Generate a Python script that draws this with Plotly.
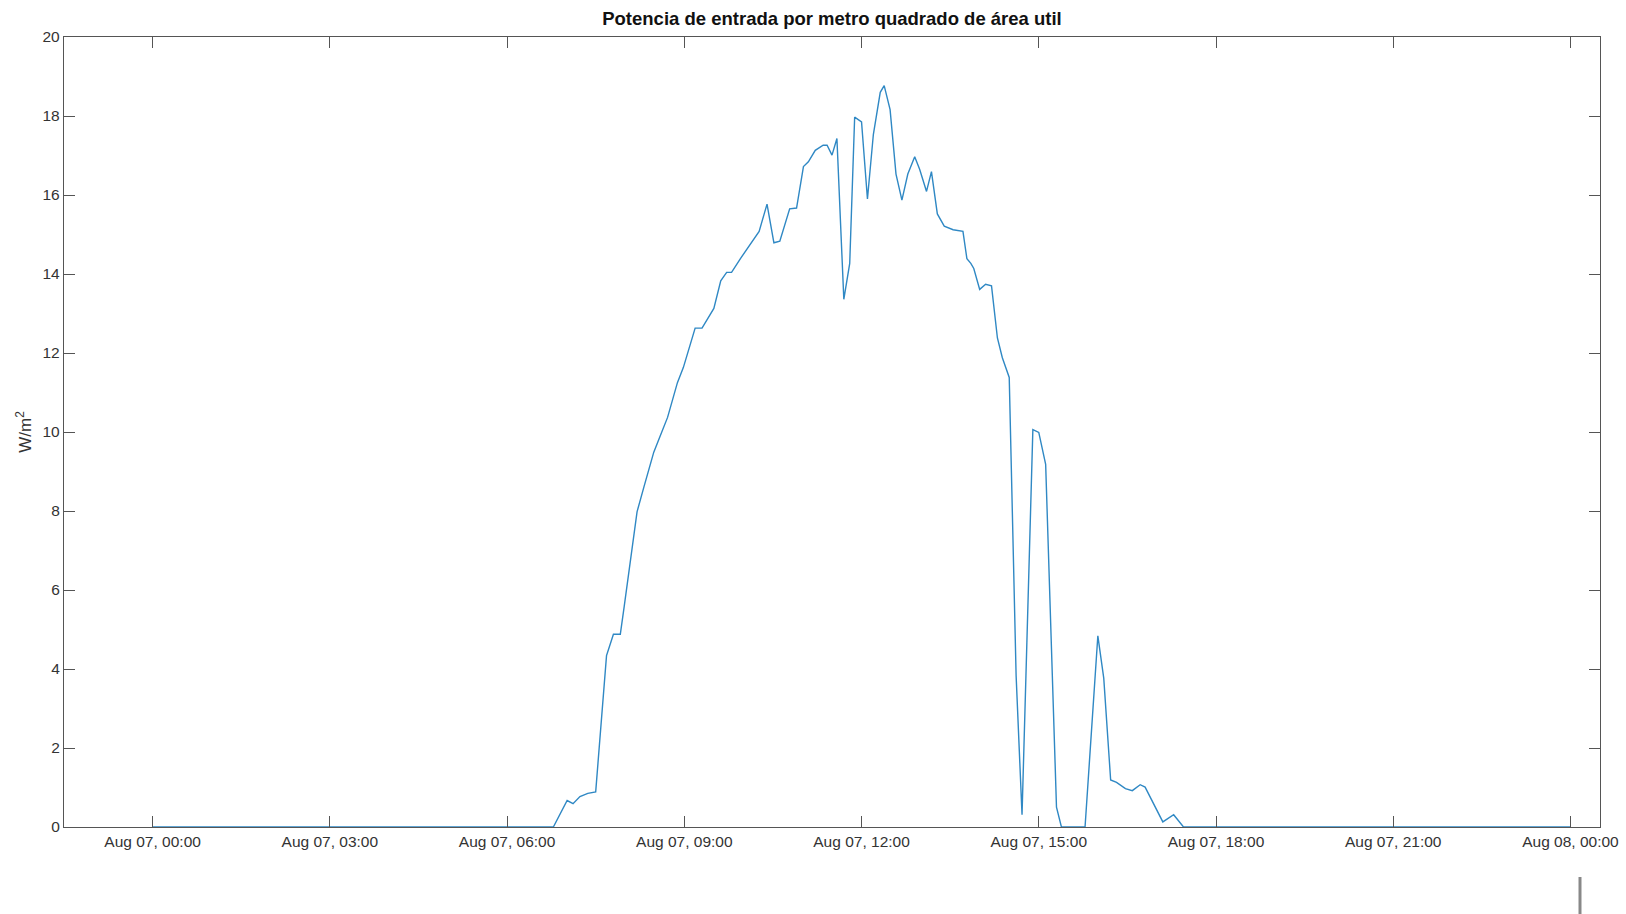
import plotly.graph_objects as go
import pandas as pd

# ---- data ----
day = "2023-08-07"
times = ["00:00", "06:47", "07:01", "07:07", "07:14", "07:22", "07:30", "07:41", "07:48", "07:55",
         "07:59", "08:12", "08:19", "08:29", "08:35", "08:43", "08:53", "08:59", "09:11", "09:18",
         "09:30", "09:37", "09:43", "09:48", "09:57", "10:16", "10:24", "10:31", "10:37", "10:47",
         "10:54", "11:01", "11:06", "11:13", "11:21", "11:25", "11:30", "11:35", "11:42", "11:48",
         "11:53", "12:00", "12:06", "12:12", "12:19", "12:23", "12:29", "12:35", "12:41", "12:47",
         "12:54", "12:59", "13:06", "13:11", "13:17", "13:24", "13:33", "13:43", "13:47", "13:51",
         "13:54", "14:00", "14:06", "14:12", "14:18", "14:23", "14:30", "14:37", "14:43", "14:54",
         "15:00", "15:07", "15:18", "15:23", "15:47", "16:00", "16:06", "16:13", "16:19", "16:28",
         "16:35", "16:43", "16:48", "16:56", "17:06", "17:17", "17:27"]
values = [0.0, 0.0, 0.67, 0.59, 0.77, 0.85, 0.89, 4.34, 4.88, 4.88,
          5.59, 7.98, 8.61, 9.49, 9.87, 10.37, 11.25, 11.63, 12.63, 12.63,
          13.13, 13.83, 14.04, 14.04, 14.39, 15.08, 15.77, 14.79, 14.83, 15.65,
          15.67, 16.72, 16.84, 17.13, 17.26, 17.26, 17.01, 17.43, 13.36, 14.27,
          17.97, 17.85, 15.90, 17.53, 18.60, 18.77, 18.16, 16.53, 15.87, 16.53,
          16.97, 16.65, 16.09, 16.59, 15.52, 15.21, 15.12, 15.08, 14.39, 14.27,
          14.14, 13.61, 13.74, 13.70, 12.38, 11.88, 11.38, 3.83, 0.31, 10.06,
          9.99, 9.18, 0.50, 0.0, 0.0, 4.84, 3.77, 1.19, 1.13, 0.97,
          0.92, 1.07, 1.01, 0.63, 0.13, 0.31, 0.0]
end_time = "2023-08-08 00:00"
end_value = 0.0

tick_times = ["2023-08-07 00:00", "2023-08-07 03:00", "2023-08-07 06:00", "2023-08-07 09:00",
              "2023-08-07 12:00", "2023-08-07 15:00", "2023-08-07 18:00", "2023-08-07 21:00",
              "2023-08-08 00:00"]
tick_labels = ["Aug 07, 00:00", "Aug 07, 03:00", "Aug 07, 06:00", "Aug 07, 09:00",
               "Aug 07, 12:00", "Aug 07, 15:00", "Aug 07, 18:00", "Aug 07, 21:00",
               "Aug 08, 00:00"]

x = [pd.Timestamp(f"{day} {t}") for t in times] + [pd.Timestamp(end_time)]
y = values + [end_value]

fig = go.Figure()
fig.add_trace(go.Scatter(x=x, y=y, mode="lines",
                         line=dict(color="#2f88c4", width=1.4), showlegend=False))

axis_col = "#555555"
fig.update_layout(
    width=1626, height=914,
    paper_bgcolor="white", plot_bgcolor="white",
    margin=dict(l=64, r=26, t=37, b=87),
    font=dict(family="Liberation Sans, Arial, sans-serif", size=15, color="#333333"),
    title=dict(text="<b>Potencia de entrada por metro quadrado de área util</b>",
               xref="paper", x=0.5, xanchor="center", y=1 - 19 / 914, yanchor="middle",
               font=dict(size=18.5, color="#111111")),
    xaxis=dict(range=[pd.Timestamp("2023-08-06 22:30"), pd.Timestamp("2023-08-08 00:30")],
               tickmode="array", tickvals=[pd.Timestamp(t) for t in tick_times],
               ticktext=tick_labels, ticks="inside", ticklen=11, tickwidth=1.2,
               tickcolor=axis_col, showline=True, linecolor=axis_col, linewidth=1.3,
               mirror="ticks", showgrid=False, zeroline=False, automargin=False,
               tickfont=dict(size=15.5, color="#333333")),
    yaxis=dict(range=[0, 20], dtick=2, ticks="inside", ticklen=11, tickwidth=1.2,
               tickcolor=axis_col, showline=True, linecolor=axis_col, linewidth=1.3,
               mirror="ticks", showgrid=False, zeroline=False, automargin=False,
               title=dict(text="W/m<sup>2</sup>", standoff=6, font=dict(size=17)),
               tickfont=dict(size=15.5, color="#333333")),
)

# stray cursor mark visible in the reference screenshot (bottom right)
fig.add_shape(type="line", xref="paper", yref="paper",
              x0=(1580 - 64) / 1536, x1=(1580 - 64) / 1536,
              y0=-(877 - 827) / 790, y1=-(914 - 827) / 790,
              line=dict(color="#888888", width=3))

fig.write_html("out.html", config={"displayModeBar": False},
               post_script="document.body.style.margin='0px';")
